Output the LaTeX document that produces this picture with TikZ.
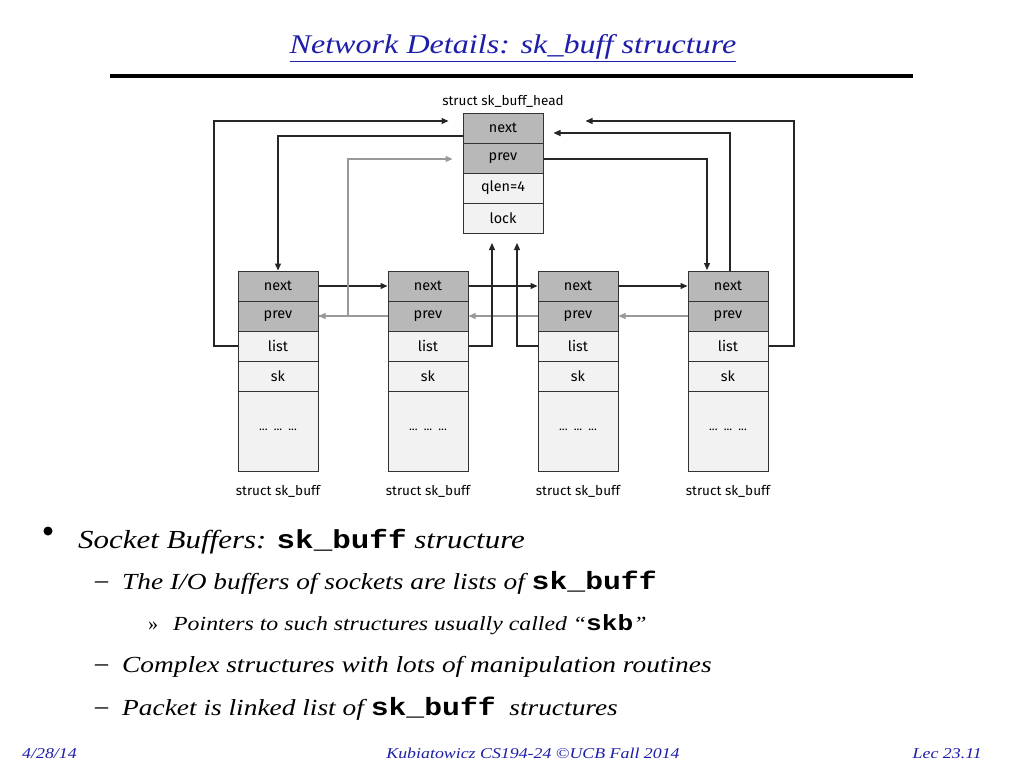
\documentclass[tikz,border=0pt]{standalone}
\usepackage{fontspec}
\setmainfont{Liberation Serif}
\newfontfamily\dgm{Fira Sans}[Scale=0.9]
\newfontfamily\cod{Liberation Mono}
\usetikzlibrary{arrows.meta}
\definecolor{ttl}{RGB}{30,30,170}
\newcommand{\wdr}[1]{\scalebox{1.19}[1]{#1}}
\begin{document}
\begin{tikzpicture}[x=1pt,y=-1pt,
  cell/.style={draw=black!80,line width=1pt,minimum width=80pt,minimum height=30pt,inner sep=0,font=\dgm\fontsize{16}{16}\selectfont},
  dk/.style={cell,fill=black!28},
  lt/.style={cell,fill=black!5},
  big/.style={draw=black!80,line width=1pt,minimum width=80pt,minimum height=80pt,inner sep=0,fill=black!5,font=\dgm\fontsize{13}{13}\selectfont},
  lab/.style={font=\dgm\fontsize{15}{15}\selectfont},
  blk/.style={draw=black!85,line width=1.2pt,-{Triangle[length=7pt,width=6pt]}},
  gry/.style={draw=black!40,line width=1.2pt,-{Triangle[length=7pt,width=6pt]}},
  bl/.style={font=\itshape\fontsize{26}{26}\selectfont,anchor=base west,inner sep=0},
  ft/.style={font=\itshape\fontsize{15}{15}\selectfont,text=ttl,inner sep=0,anchor=base}]
\useasboundingbox (0,0) rectangle (1024,768);
\fill[white] (0,0) rectangle (1024,768);
% title
\node[font=\itshape\fontsize{27}{27}\selectfont,text=ttl,inner sep=0] (title) at (513,48) {\wdr{\underline{Network Details: sk\_buff structure}}};
\draw[line width=4pt] (110,76) -- (913,76);
% head
\node[lab] (hl) at (503,101) {struct sk\_buff\_head};
\node[dk] (hn) at (503,128) {next};
\node[dk] (hp) at (503,158) {prev};
\node[lt] (hq) at (503,188) {qlen=4};
\node[lt] (hk) at (503,218) {lock};
% buffers
\foreach \i/\x in {1/278,2/428,3/578,4/728}{
  \node[dk] (n\i) at (\x,286) {next};
  \node[dk] (p\i) at (\x,316) {prev};
  \node[lt] (l\i) at (\x,346) {list};
  \node[lt] (s\i) at (\x,376) {sk};
  \node[big] (d\i) at (\x,431) {\raisebox{2pt}{...\ \ ...\ \ ...}};
  \node[lab] (t\i) at (\x,491) {struct sk\_buff};
}
% next chain
\draw[blk] (n1.east) -- (n2.west);
\draw[blk] (n2.east) -- (n3.west);
\draw[blk] (n3.east) -- (n4.west);
\draw[gry] (p2.west) -- (p1.east);
\draw[gry] (p3.west) -- (p2.east);
\draw[gry] (p4.west) -- (p3.east);
% head links
\draw[blk] (hn.west |- 0,136) -- (278,136) -- (n1.north);
\draw[blk] (hp.east |- 0,159) -- (707,159) -- (707,270);
\draw[blk] (n4.north -| 730,0) -- (730,133) -- ([xshift=10pt]hn.east |- 0,133);
\draw[gry] (p1.east) -- (348,316) -- (348,159) -- ([xshift=-10pt]hp.west |- 0,159);
% list links
\draw[blk] (l1.west) -- (214,346) -- (214,121) -- ([xshift=-14pt]hn.west |- 0,121);
\draw[blk] (l4.east) -- (794,346) -- (794,121) -- ([xshift=42pt]hn.east |- 0,121);
\draw[blk] (l2.east) -- (492,346) -- (492,243);
\draw[blk] (l3.west) -- (517,346) -- (517,243);
% bullets
\fill (48,531) circle (4.5pt);
\node[bl] (b1) at (78,548) {\wdr{Socket Buffers: {\cod\bfseries\upshape sk\_buff} structure}};
\node[font=\fontsize{26}{26}\selectfont,anchor=base west,inner sep=0] (d1) at (95,588) {\textendash};
\node[bl,font=\itshape\fontsize{23}{23}\selectfont] (b2) at (122,589) {\wdr{The I/O buffers of sockets are lists of {\cod\bfseries\upshape\fontsize{25}{25}\selectfont sk\_buff}}};
\node[font=\fontsize{20}{20}\selectfont,anchor=base west,inner sep=0] (r1) at (148,630) {»};
\node[bl,font=\itshape\fontsize{20}{20}\selectfont] (b3) at (173,630) {\wdr{Pointers to such structures usually called “{\cod\bfseries\upshape\fontsize{22}{22}\selectfont skb}”}};
\node[font=\fontsize{26}{26}\selectfont,anchor=base west,inner sep=0] (d2) at (95,671) {\textendash};
\node[bl,font=\itshape\fontsize{23}{23}\selectfont] (b4) at (122,672) {\wdr{Complex structures with lots of manipulation routines}};
\node[font=\fontsize{26}{26}\selectfont,anchor=base west,inner sep=0] (d3) at (95,714) {\textendash};
\node[bl,font=\itshape\fontsize{23}{23}\selectfont] (b5) at (122,715) {\wdr{Packet is linked list of {\cod\bfseries\upshape\fontsize{25}{25}\selectfont sk\_buff} \ structures}};
% footer
\node[ft,anchor=base west] (f1) at (22,758) {\wdr{4/28/14}};
\node[ft] (f2) at (533,758) {\wdr{Kubiatowicz CS194-24 ©UCB Fall 2014}};
\node[ft,anchor=base east] (f3) at (982,758) {\wdr{Lec 23.11}};
\end{tikzpicture}
\end{document}
